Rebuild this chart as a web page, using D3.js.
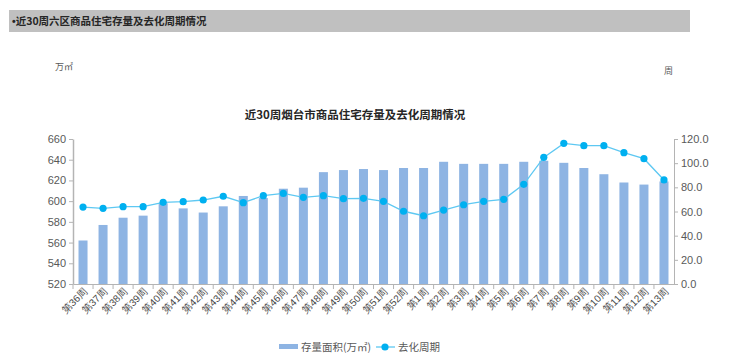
<!DOCTYPE html>
<html><head><meta charset="utf-8">
<script src="https://cdn.jsdelivr.net/npm/d3@7"></script>
<style>
body{margin:0;background:#fff}
svg{display:block;font-family:"Noto Sans CJK SC","Noto Sans",sans-serif}
</style>
</head><body>
<svg id="c" width="740" height="364"></svg>
<script>
const categories = ["第36周","第37周","第38周","第39周","第40周","第41周","第42周","第43周","第44周","第45周","第46周","第47周","第48周","第49周","第50周","第51周","第52周","第1周","第2周","第3周","第4周","第5周","第6周","第7周","第8周","第9周","第10周","第11周","第12周","第13周"];
const stockArea = [562,577,584,586,598,593,589,595,605,603,612,613,628,630,631,630,632,632,638,636,636,636,638,639,637,632,626,618,616,619];
const cycleWeeks = [63.7,62.6,64.0,64.0,67.6,68.1,69.5,72.6,67.3,73.1,75.0,71.7,73.1,70.6,70.9,68.4,60.2,56.5,61.2,65.6,68.4,70.1,82.5,104.8,116.4,114.5,114.5,108.7,103.7,86.1];
const leftTicks = [520,540,560,580,600,620,640,660];
const rightTicks = [0,20,40,60,80,100,120];
const headerText = "近30周六区商品住宅存量及去化周期情况";
const chartTitle = "近30周烟台市商品住宅存量及去化周期情况";
const leftUnit = "万㎡";
const rightUnit = "周";
const seriesNames = ["存量面积(万㎡)", "去化周期"];

const svg = d3.select("#c");
const L = 73, R = 674, T = 139, B = 284;
const barColor = "#8eb4e3", lineColor = "#5ec8f2", dotColor = "#00b0f0";
const axisColor = "#b4b4b4", textColor = "#595959";

// header bar
svg.append("rect").attr("x", 9).attr("y", 10).attr("width", 681).attr("height", 22).attr("fill", "#c0c0c0");
const ht = svg.append("text").attr("x", 12).attr("y", 25).attr("font-size", 10.5).attr("font-weight", "bold")
  .attr("fill", "#262626");
ht.append("tspan").attr("font-family", "Liberation Sans, Arial, sans-serif").text("•");
ht.append("tspan").text(headerText);

// title
svg.append("text").attr("x", 355).attr("y", 119).attr("text-anchor", "middle")
  .attr("font-size", 11.5).attr("font-weight", "bold").attr("fill", "#262626").text(chartTitle);

svg.append("text").attr("x", 55).attr("y", 70).attr("font-size", 9).attr("fill", textColor).text(leftUnit);
svg.append("text").attr("x", 664).attr("y", 74).attr("font-size", 9).attr("fill", textColor).text(rightUnit);

const x = d3.scaleBand().domain(categories).range([L, R]).paddingInner(0.55).paddingOuter(0.275);
const yL = d3.scaleLinear().domain([520, 660]).range([B, T]);
const yR = d3.scaleLinear().domain([0, 120]).range([B, T]);
const cx = d => x(d) + x.bandwidth() / 2;

// bars
svg.append("g").selectAll("rect").data(categories).join("rect")
  .attr("x", d => x(d)).attr("width", x.bandwidth())
  .attr("y", (d, i) => yL(stockArea[i])).attr("height", (d, i) => B - yL(stockArea[i]))
  .attr("fill", barColor);

// axes
function styleAxis(g) {
  g.selectAll("path,line").attr("stroke", axisColor);
  g.selectAll("text").attr("fill", textColor).attr("font-size", 11)
    .attr("font-family", "Liberation Sans, Arial, sans-serif");
}
svg.append("g").attr("transform", `translate(${L},0)`)
  .call(d3.axisLeft(yL).tickValues(leftTicks).tickSize(4).tickSizeOuter(0).tickPadding(3))
  .call(styleAxis).call(g => g.select(".domain").attr("stroke-width", 1.5));
svg.append("g").attr("transform", `translate(${R},0)`)
  .call(d3.axisRight(yR).tickValues(rightTicks).tickFormat(d3.format(".1f")).tickSize(4).tickSizeOuter(0).tickPadding(3))
  .call(styleAxis);

// bottom axis
const xAxis = svg.append("g").attr("transform", `translate(0,${B})`)
  .call(d3.axisBottom(x).tickSize(0).tickSizeOuter(0).tickPadding(0));
xAxis.select(".domain").attr("stroke", axisColor);
xAxis.selectAll(".tick text").attr("fill", "#4a4a4a").attr("font-size", 10)
  .attr("text-anchor", "end").attr("dy", 0)
  .attr("transform", "translate(5,8) rotate(-45)");
const stepOff = x.step() * x.paddingOuter();
xAxis.append("g").selectAll("line").data(categories).join("line")
  .attr("x1", d => x(d) - stepOff).attr("x2", d => x(d) - stepOff)
  .attr("y1", 0).attr("y2", 5).attr("stroke", axisColor);

// line
const line = d3.line().x((d, i) => cx(categories[i])).y(d => yR(d));
svg.append("path").datum(cycleWeeks).attr("d", line).attr("fill", "none")
  .attr("stroke", lineColor).attr("stroke-width", 1.3);
svg.append("g").selectAll("circle").data(cycleWeeks).join("circle")
  .attr("cx", (d, i) => cx(categories[i])).attr("cy", d => yR(d)).attr("r", 3.6).attr("fill", dotColor);

// legend
const lg = svg.append("g").attr("font-size", 10.5).attr("fill", textColor);
lg.append("rect").attr("x", 279).attr("y", 344).attr("width", 19).attr("height", 5).attr("fill", barColor);
lg.append("text").attr("x", 301).attr("y", 351).attr("fill", textColor).text(seriesNames[0]);
lg.append("line").attr("x1", 376).attr("x2", 395).attr("y1", 347).attr("y2", 347).attr("stroke", lineColor).attr("stroke-width", 1.3);
lg.append("circle").attr("cx", 385).attr("cy", 347).attr("r", 3.6).attr("fill", dotColor);
lg.append("text").attr("x", 398).attr("y", 351).attr("fill", textColor).text(seriesNames[1]);
</script>
</body></html>
